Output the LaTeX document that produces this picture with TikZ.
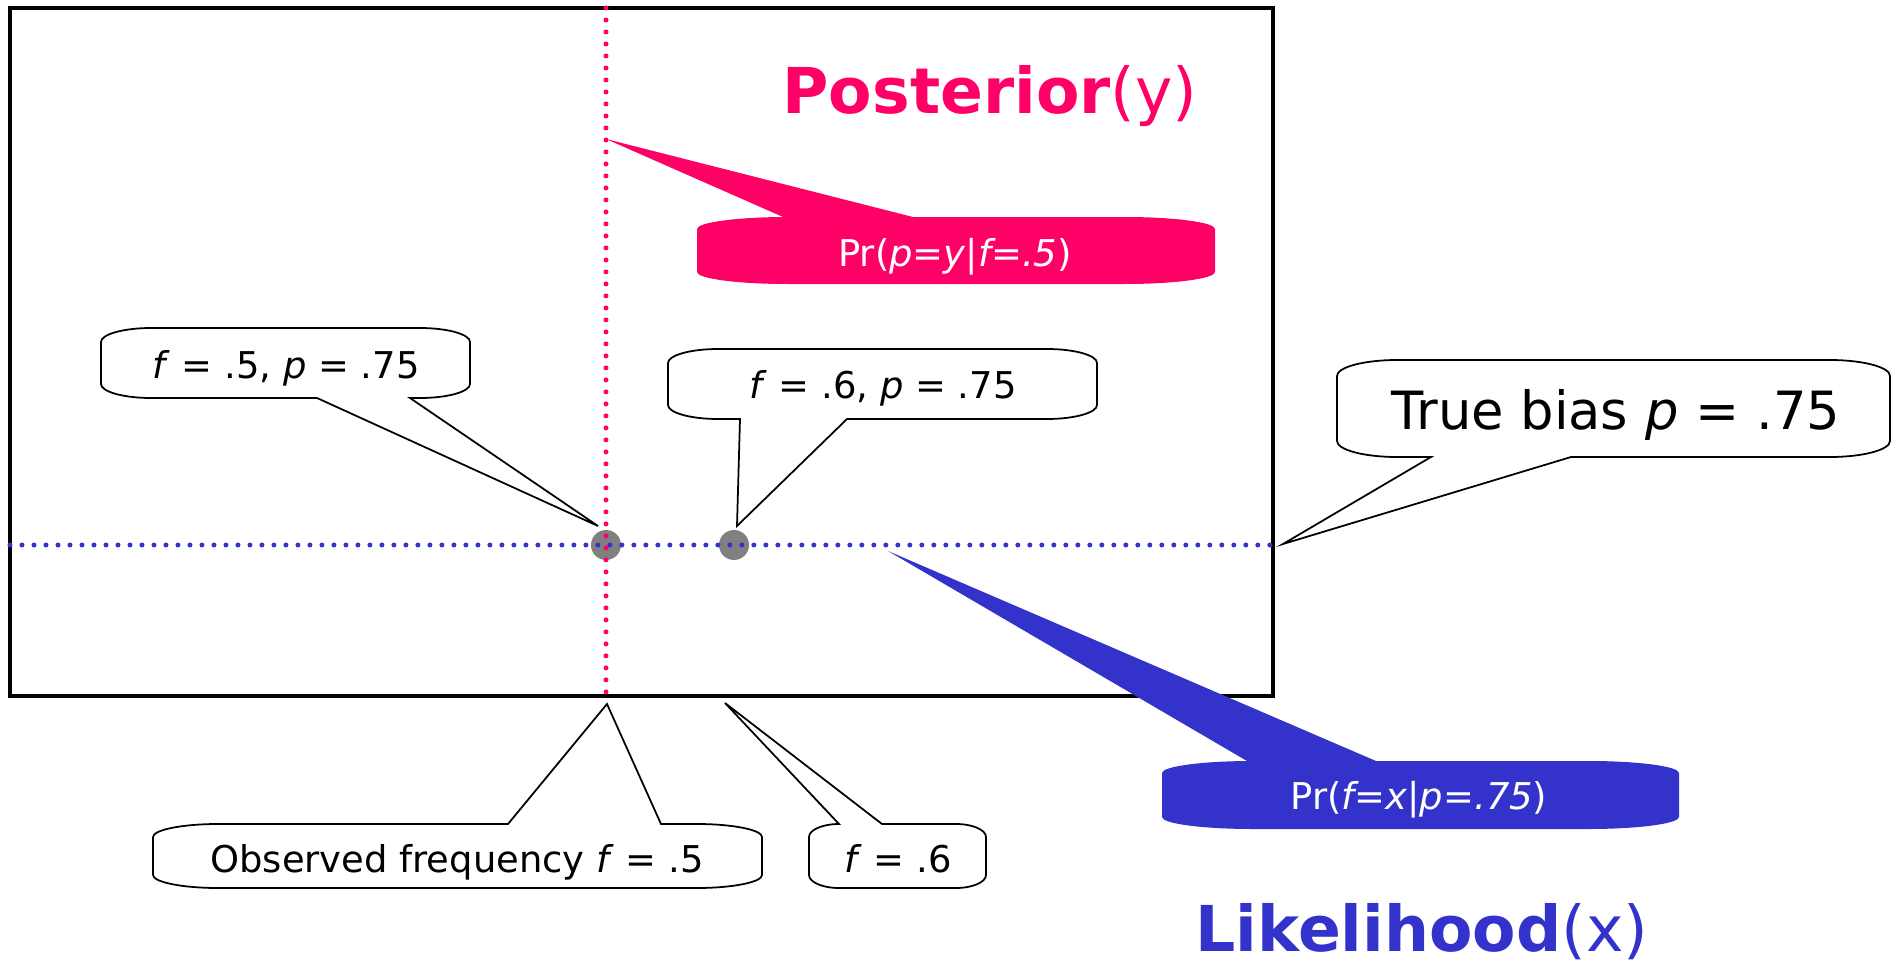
\documentclass[tikz,border=0pt]{standalone}
\usepackage{fontspec}
\setmainfont{DejaVu Sans}

\definecolor{postpink}{RGB}{255,0,102}
\definecolor{likeblue}{RGB}{51,51,204}

\tikzset{
  lbl/.style={inner sep=0pt, anchor=base, font=\fontsize{21}{25}\selectfont},
  biglbl/.style={inner sep=0pt, anchor=base, font=\fontsize{30}{36}\selectfont},
  title/.style={inner sep=0pt, anchor=base, font=\fontsize{36}{43}\selectfont},
  bubble/.style={fill=white, draw=black, line width=1pt},
  dotline/.style={line width=0.1cm, line cap=round, dash pattern=on 0pt off 0.24cm},
  obs/.style={circle, fill=gray, inner sep=0pt, minimum size=0.6cm},
}

\def\crx{50}\def\cry{14}
% callout, pointer under it: style, left, top, right, bottom, base left, base right, tip
\newcommand{\bubbledown}[8]{%
  \filldraw[#1] ({#2+\crx},#3) -- ({#4-\crx},#3)
    .. controls ({#4-0.45*\crx},#3) and (#4,{#3+0.45*\cry}) .. (#4,{#3+\cry})
    -- (#4,{#5-\cry}) .. controls (#4,{#5-0.45*\cry}) and ({#4-0.45*\crx},#5) .. ({#4-\crx},#5)
    -- (#7,#5) -- (#8) -- (#6,#5) -- ({#2+\crx},#5)
    .. controls ({#2+0.45*\crx},#5) and (#2,{#5-0.45*\cry}) .. (#2,{#5-\cry})
    -- (#2,{#3+\cry}) .. controls (#2,{#3+0.45*\cry}) and ({#2+0.45*\crx},#3) .. ({#2+\crx},#3) -- cycle;}
% callout, pointer over it
\newcommand{\bubbleup}[8]{%
  \filldraw[#1] ({#2+\crx},#3) -- (#6,#3) -- (#8) -- (#7,#3) -- ({#4-\crx},#3)
    .. controls ({#4-0.45*\crx},#3) and (#4,{#3+0.45*\cry}) .. (#4,{#3+\cry})
    -- (#4,{#5-\cry}) .. controls (#4,{#5-0.45*\cry}) and ({#4-0.45*\crx},#5) .. ({#4-\crx},#5)
    -- ({#2+\crx},#5)
    .. controls ({#2+0.45*\crx},#5) and (#2,{#5-0.45*\cry}) .. (#2,{#5-\cry})
    -- (#2,{#3+\cry}) .. controls (#2,{#3+0.45*\cry}) and ({#2+0.45*\crx},#3) .. ({#2+\crx},#3) -- cycle;}

\begin{document}
\begin{tikzpicture}[x=0.02cm, y=-0.02cm]
  \useasboundingbox (0,0) rectangle (1894,963);
  \draw[line width=2pt] (10,8) rectangle (1273,696);
  % the two observations
  \node[obs] (obsA) at (606,545) {};
  \node[obs] (obsB) at (734,545) {};
  \draw[dotline, postpink] (606,8) -- (606,696);
  \draw[dotline, likeblue] (10,545) -- (1273,545);

  \coordinate (tipA) at (598,526);
  \coordinate (tipB) at (737,526);
  \coordinate (tipT) at (1283,544);
  \coordinate (tipO) at (607,704);
  \coordinate (tipS) at (725,703);
  \coordinate (tipP) at (606,139);
  \coordinate (tipL) at (888,551);

  \bubbledown{bubble}{101}{328}{470}{398}{317}{410}{tipA}
  \node[lbl] (labA) at (286,378) {\textit{f} = .5, \textit{p} = .75};
  \bubbledown{bubble}{668}{349}{1097}{419}{740}{847}{tipB}
  \node[lbl] (labB) at (883,398) {\textit{f} = .6, \textit{p} = .75};
  \def\crx{60}\def\cry{16}
  \bubbledown{bubble}{1337}{360}{1890}{457}{1431}{1571}{tipT}
  \node[biglbl] (bias) at (1616,429) {True bias \textit{p} = .75};
  \def\crx{65}\def\cry{13}
  \bubbleup{bubble}{153}{824}{762}{888}{508}{661}{tipO}
  \node[lbl] (freq) at (457,872) {Observed frequency \textit{f} = .5};
  \def\crx{30}
  \bubbleup{bubble}{809}{824}{986}{888}{839}{882}{tipS}
  \node[lbl] (freqB) at (898,872) {\textit{f} = .6};

  % coloured callouts
  \def\crx{90}\def\cry{12}
  \bubbleup{fill=postpink, draw=none}{697}{217}{1215}{284}{783}{913}{tipP}
  \node[lbl, white] (prP) at (955,266) {Pr(\textit{p=y|f=.5})};
  \bubbleup{fill=likeblue, draw=none}{1162}{761}{1679}{829}{1247}{1376}{tipL}
  \node[lbl, white] (prL) at (1419,809) {Pr(\textit{f=x|p=.75})};

  \node[title, postpink] (post) at (990,113) {\textbf{Posterior}(y)};
  \node[title, likeblue] (like) at (1422,951) {\textbf{Likelihood}(x)};
\end{tikzpicture}
\end{document}
